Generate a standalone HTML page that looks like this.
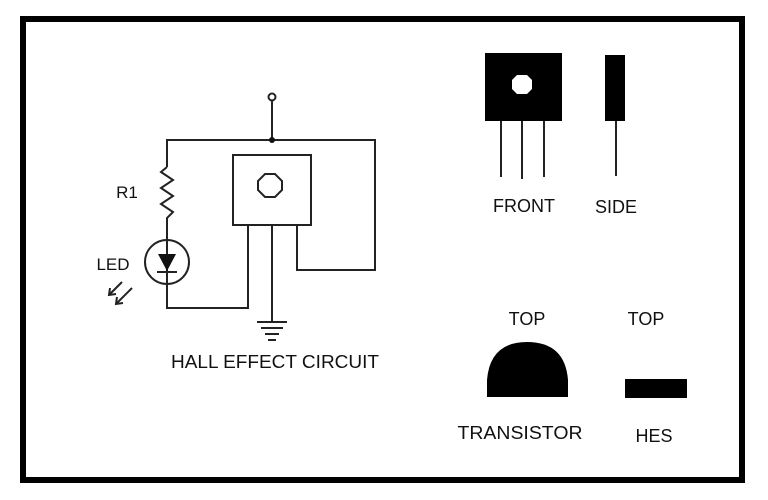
<!DOCTYPE html>
<html><head><style>
html,body{margin:0;padding:0;background:#fff;width:768px;height:500px;overflow:hidden}
svg text{font-family:"Liberation Sans",Arial,sans-serif;fill:#111}
</style></head><body>
<svg width="768" height="500" viewBox="0 0 768 500" xmlns="http://www.w3.org/2000/svg">
<rect x="23" y="19" width="719" height="461" fill="none" stroke="#000" stroke-width="6"/>
<g stroke="#222" stroke-width="2" fill="none">
<circle cx="272" cy="97" r="3.5"/>
<line x1="272" y1="100" x2="272" y2="140"/>
<polyline points="167,167 167,140 375,140 375,270 297,270 297,225"/>
<polyline points="167,167 161,172 173,180 161,188 173,196 161,204 173,212 167,218 167,308 248,308 248,225"/>
<line x1="272" y1="225" x2="272" y2="322"/>
<rect x="233" y="155" width="78" height="70"/>
<polygon points="265,174 275,174 282,181 282,190 275,197 265,197 258,190 258,181"/>
<circle cx="167" cy="262" r="22"/>
<line x1="157" y1="272" x2="177" y2="272"/>
<line x1="122" y1="282" x2="109" y2="295"/>
<line x1="132" y1="288" x2="116" y2="304"/>
<polyline points="110,288 109,295 116,294"/>
<polyline points="117,297 116,304 123,303"/>
<line x1="257" y1="322" x2="287" y2="322"/>
<line x1="261" y1="328" x2="283" y2="328"/>
<line x1="265" y1="334" x2="279" y2="334"/>
<line x1="268" y1="340" x2="276" y2="340"/>
<line x1="501" y1="121" x2="501" y2="177"/>
<line x1="522" y1="121" x2="522" y2="179"/>
<line x1="544" y1="121" x2="544" y2="177"/>
<line x1="616" y1="121" x2="616" y2="176"/>
</g>
<circle cx="272" cy="140" r="3" fill="#111"/>
<polygon points="158,254 176,254 167,271" fill="#111"/>
<rect x="485" y="53" width="77" height="68" fill="#000"/>
<polygon points="517,75 527,75 532,80 532,89 527,94 517,94 512,89 512,80" fill="#fff"/>
<rect x="605" y="55" width="20" height="66" fill="#000"/>
<path d="M487,397 L487,380 Q490,342 527,342 Q565,342 568,380 L568,397 Z" fill="#000"/>
<rect x="625" y="379" width="62" height="19" fill="#000"/>
<text x="127" y="198" font-size="17" text-anchor="middle">R1</text>
<text x="113" y="270" font-size="17" text-anchor="middle">LED</text>
<text x="275" y="368" font-size="18" text-anchor="middle" textLength="208" lengthAdjust="spacingAndGlyphs">HALL EFFECT CIRCUIT</text>
<text x="524" y="212" font-size="18" text-anchor="middle">FRONT</text>
<text x="616" y="213" font-size="18" text-anchor="middle">SIDE</text>
<text x="527" y="325" font-size="18" text-anchor="middle">TOP</text>
<text x="646" y="325" font-size="18" text-anchor="middle">TOP</text>
<text x="520" y="439" font-size="18" text-anchor="middle" textLength="125" lengthAdjust="spacingAndGlyphs">TRANSISTOR</text>
<text x="654" y="442" font-size="18" text-anchor="middle">HES</text>
</svg>
</body></html>
